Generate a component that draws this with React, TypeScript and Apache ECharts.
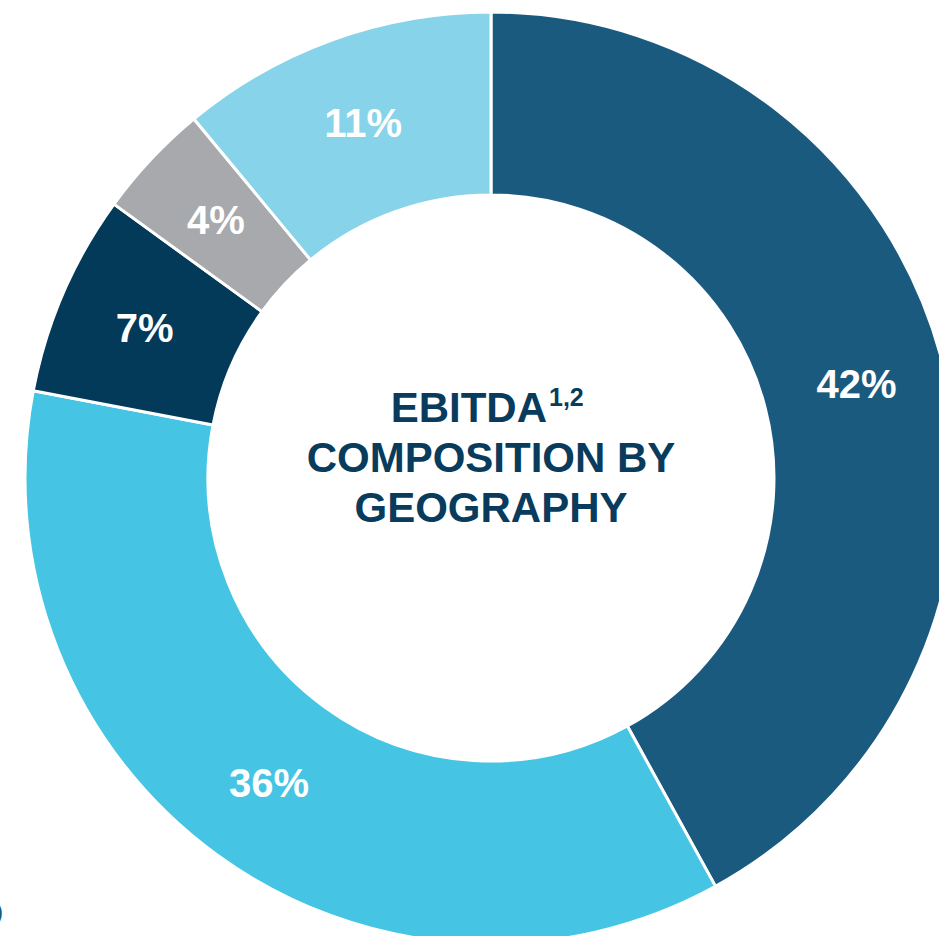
import React, { useEffect, useRef } from "react";
import * as echarts from "echarts";

const categories = ["Region A", "Region B", "Region C", "Region D", "Region E"];
const values = [42, 36, 7, 4, 11];
const colors = ["#1B5A7F", "#45C5E3", "#033A59", "#A7A9AC", "#86D3EA"];
const titleLines = ["EBITDA", "COMPOSITION BY", "GEOGRAPHY"];
const titleSup = "1,2";

export default function App() {
  const ref = useRef<HTMLDivElement>(null);
  useEffect(() => {
    if (!ref.current) return;
    const chart = echarts.init(ref.current, null, { renderer: "svg" });
    const font = "'Liberation Sans', Arial, sans-serif";
    const navy = "#083B5C";
    chart.setOption({
      animation: false,
      backgroundColor: "#ffffff",
      series: [
        {
          type: "pie",
          center: [491, 478],
          radius: [283, 466],
          startAngle: 90,
          clockwise: true,
          silent: true,
          itemStyle: { borderColor: "#ffffff", borderWidth: 3 },
          label: {
            show: true,
            position: "inside",
            formatter: "{c}%",
            color: "#ffffff",
            fontFamily: font,
            fontWeight: "bold",
            fontSize: 40,
          },
          labelLine: { show: false },
          data: categories.map((name, i) => ({
            name,
            value: values[i],
            itemStyle: { color: colors[i] },
          })),
        },
      ],
      graphic: [
        {
          type: "text",
          x: 547,
          y: 407,
          style: {
            text: titleLines[0],
            fill: navy,
            font: `bold 42px ${font}`,
            align: "right",
            verticalAlign: "middle",
          },
        },
        {
          type: "text",
          x: 549,
          y: 397,
          style: {
            text: titleSup,
            fill: navy,
            font: `bold 25px ${font}`,
            align: "left",
            verticalAlign: "middle",
          },
        },
        {
          type: "text",
          x: 491,
          y: 457,
          style: {
            text: titleLines[1],
            fill: navy,
            font: `bold 42px ${font}`,
            align: "center",
            verticalAlign: "middle",
          },
        },
        {
          type: "text",
          x: 491,
          y: 507,
          style: {
            text: titleLines[2],
            fill: navy,
            font: `bold 42px ${font}`,
            align: "center",
            verticalAlign: "middle",
          },
        },
        {
          type: "text",
          x: -4,
          y: 912,
          style: {
            text: ")",
            fill: "#1B5A7F",
            font: `bold 20px ${font}`,
            align: "left",
            verticalAlign: "middle",
          },
        },
      ],
    });
    return () => chart.dispose();
  }, []);
  return (
    <div
      ref={ref}
      style={{ position: "fixed", left: 0, top: 0, width: 939, height: 936 }}
    />
  );
}
